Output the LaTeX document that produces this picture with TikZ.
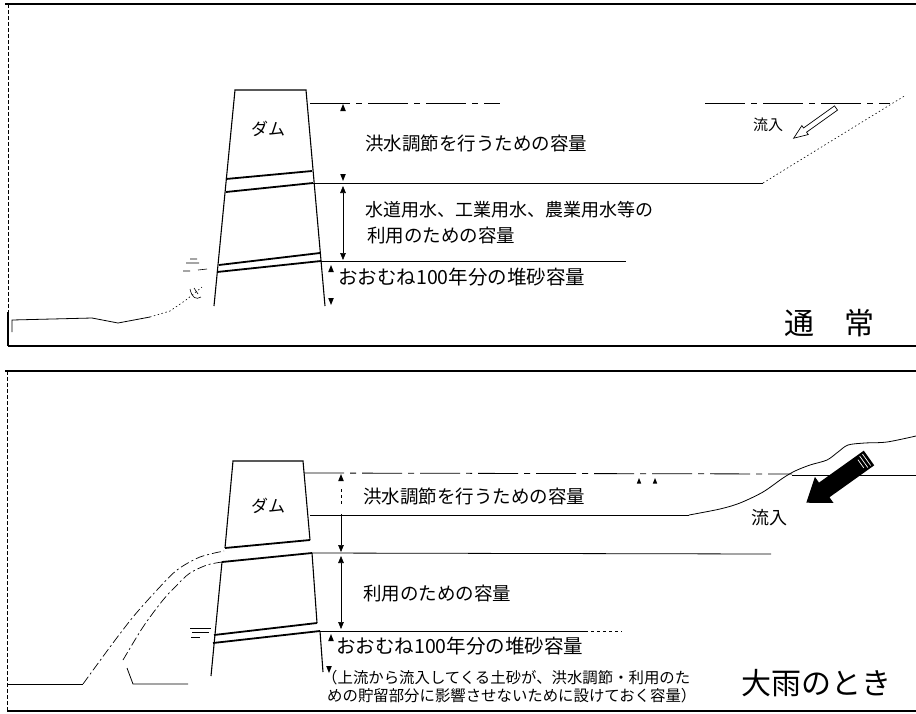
\documentclass[tikz,border=0pt]{standalone}
\usepackage{fontspec}
\setmainfont{Noto Sans CJK JP}
\usetikzlibrary{arrows.meta}
\tikzset{dimtip/.tip={Triangle[width=5.6pt,length=7pt]}}
\begin{document}
\begin{tikzpicture}[x=1pt,y=-1pt,
  panelframe/.style={line width=1.1pt},
  panelside/.style={line width=0.5pt, dash pattern=on 4pt off 2pt},
  damline/.style={line width=1.1pt, line join=miter},
  joint/.style={line width=1.8pt},
  level/.style={line width=0.8pt},
  looselevel/.style={line width=0.8pt, dash pattern=on 40pt off 6pt on 6pt off 6pt},
  dotline/.style={line width=0.6pt, dash pattern=on 1.5pt off 2.5pt},
  flowline/.style={line width=0.7pt, dash pattern=on 9pt off 3pt on 2pt off 3pt},
  dimline/.style={line width=0.6pt},
  lbl/.style={anchor=west, inner sep=0pt, font=\fontsize{18.5}{20}\selectfont},
  sedlbl/.style={anchor=west, inner sep=0pt, font=\fontsize{19.5}{21}\selectfont},
  small/.style={anchor=west, inner sep=0pt, font=\fontsize{15.4}{18}\selectfont},
  title/.style={anchor=west, inner sep=0pt, font=\fontsize{30}{32}\selectfont},
  uptri/.pic={\fill (0,0) -- (-2.8,7) -- (2.8,7) -- cycle;},
  dntri/.pic={\fill (0,0) -- (-2.8,-7) -- (2.8,-7) -- cycle;}
]
\useasboundingbox (0,0) rectangle (916,713);

% ================= upper panel: normal conditions =================
\draw[panelframe] (5,4) -- (916,4);
\draw[panelframe] (8,346) -- (916,346);
\draw[panelside] (8,4) -- (8,312);
\draw[panelframe] (8,312) -- (8,346);

% downstream river bed
\draw[level] (12,332) -- (12,320) -- (92,318) -- (118,323) -- (150,317);
\draw[dotline] (150,317) -- (170,311) -- (186,300) -- (202,287);
% outlet water marks
\draw[line width=0.6pt] (186,263) -- (199,263) (190,259) -- (197,259) (183,271) -- (190,271) (198,270) -- (207,269);
\draw[line width=0.6pt] (190,289) .. controls (192,298) and (196,300) .. (201,297)
                        (194,288) -- (198,294);

% dam body
\draw[damline] (214,306) -- (235,90) -- (306,90) -- (325,306);
\draw[joint] (226,179) -- (312,171);
\draw[joint] (226,192) -- (313,183);
\draw[joint] (219,265) -- (320,253);
\draw[joint] (217,272) -- (321,261);

% reservoir levels
\draw[looselevel] (310,103) -- (500,103);
\draw[looselevel] (705,103) -- (890,103);
\draw[level] (313,183) -- (763,183);
\draw[dotline] (763,183) -- (906,95);
\draw[level] (321,261) -- (626,261);

% capacity markers
\pic at (343,104) {uptri};
\pic at (343,181) {dntri};
\coordinate (uA) at (343,186);
\coordinate (uB) at (343,260);
\draw[dimline, dimtip-dimtip] (uA) -- (uB);
\pic at (331,265) {uptri};
\pic at (331,305) {dntri};

% inflow (outlined arrow)
\begin{scope}[shift={(836,108)}, rotate=215.5]
  \draw[line width=0.7pt, fill=white] (0,-2.6) -- (38,-2.6) -- (38,-5.5) -- (52,0) -- (38,5.5) -- (38,2.6) -- (0,2.6) -- cycle;
\end{scope}

% labels
\node[anchor=center, inner sep=0pt, font=\fontsize{17}{19}\selectfont] (damA) at (268,129) {ダム};
\node[lbl] (floodA) at (365,143) {洪水調節を行うための容量};
\node[anchor=west, inner sep=0pt, font=\fontsize{18}{20}\selectfont] (useA1) at (365,210) {水道用水、工業用水、農業用水等の};
\node[lbl] (useA2) at (367,236) {利用のための容量};
\node[sedlbl] (sedA) at (338,277) {おおむね100年分の堆砂容量};
\node[anchor=west, inner sep=0pt, font=\fontsize{15}{17}\selectfont] (inA) at (753,125) {流入};
\node[title] (normal) at (784,323) {通\hspace{1em}常};

% ================= lower panel: heavy rain =================
\draw[panelframe] (5,371) -- (916,371);
\draw[panelframe] (7,711) -- (916,711);
\draw[panelside] (7,371) -- (7,711);

% downstream river bed and spill flow
\draw[level] (8,684) -- (83,684);
\draw[flowline] plot[smooth] coordinates {(83,684) (110,647) (133,617) (157,590) (177,570) (200,557) (224,551)};
\draw[flowline] plot[smooth] coordinates {(123,660) (143,627) (163,600) (177,585) (190,573) (207,565) (222,562)};
\draw[level] (127,668) -- (133,684) -- (188,684);
% outlet water marks
\draw[line width=0.6pt] (190,628) -- (211,628) (192,632) -- (209,632) (191,637) -- (200,637);

% dam body: gated crest block and lower body
\draw[damline] (225,548) -- (233,461) -- (303,461) -- (310,540);
\draw[joint] (225,548) -- (310,540);
\draw[damline] (211,676) -- (222,562);
\draw[joint] (222,562) -- (312,553);
\draw[damline] (312,553) -- (317,623);
\draw[joint] (214,635) -- (317,623);
\draw[joint] (213,643) -- (320,631);
\draw[damline] (320,631) -- (323,672);

% reservoir levels and bank
\draw[looselevel] (304,473) -- (792,474);
\draw[level] (792,475) -- (916,475);
\draw[level] (310,515) -- (689,515);
\draw[level] plot[smooth] coordinates {(689,515) (720,509) (740,503) (763,492) (783,478) (795,471) (810,465) (827,460) (838,452) (848,445) (865,443) (887,442) (916,436)};
\draw[level] (312,553) -- (771,554);
\draw[level] (320,631) -- (585,631);
\draw[level, dashed] (585,631) -- (622,631);
\pic[scale=0.8] at (639,478) {uptri};
\pic[scale=0.8] at (655,478) {uptri};

% capacity markers
\pic at (341,474) {uptri};
\coordinate (fA) at (341,489);
\coordinate (fB) at (341,504);
\draw[dimline, dashed] (fA) -- (fB);
\coordinate (fC) at (341,514);
\coordinate (fD) at (341,552);
\draw[dimline, -dimtip] (fC) -- (fD);
\coordinate (uC) at (341,556);
\coordinate (uD) at (341,629);
\draw[dimline, dimtip-dimtip] (uC) -- (uD);
\pic at (331,634) {uptri};
\pic at (329,673) {dntri};

% inflow (solid arrow)
\begin{scope}[shift={(869,458)}, rotate=215.5]
  \fill[black] (0,-9) -- (55,-9) -- (55,-16) -- (77,0) -- (55,16) -- (55,9) -- (0,9) -- cycle;
  \draw[white, line width=0.7pt] (3,-7) -- (3,7) (6.5,-7) -- (6.5,7) (10,-5) -- (10,5);
\end{scope}

% labels
\node[anchor=center, inner sep=0pt, font=\fontsize{17}{19}\selectfont] (damB) at (268,506) {ダム};
\node[lbl] (floodB) at (363,496) {洪水調節を行うための容量};
\node[lbl] (useB) at (363,594) {利用のための容量};
\node[sedlbl] (sedB) at (336,646) {おおむね100年分の堆砂容量};
\node[small] (noteB1) at (322,678) {（上流から流入してくる土砂が、洪水調節・利用のた};
\node[small] (noteB2) at (327,696) {めの貯留部分に影響させないために設けておく容量）};
\node[anchor=west, inner sep=0pt, font=\fontsize{18}{20}\selectfont] (inB) at (751,518) {流入};
\node[title] (rain) at (741,683) {大雨のとき};

\end{tikzpicture}
\end{document}
